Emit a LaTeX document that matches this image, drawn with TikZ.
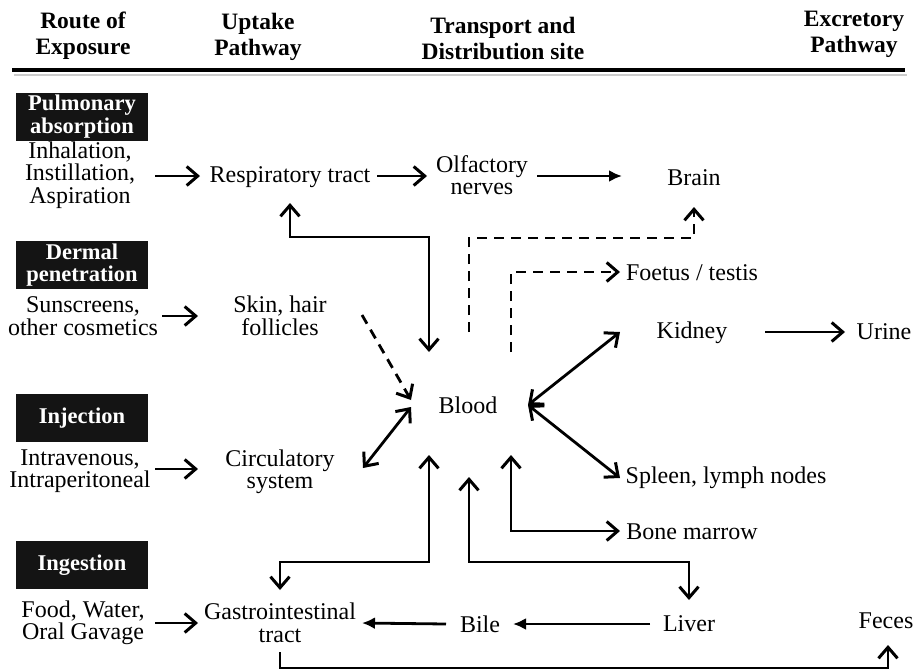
\documentclass[tikz,border=0pt]{standalone}
\usepackage{fontspec}
\setmainfont{Liberation Serif}
\usetikzlibrary{arrows.meta,calc}
\begin{document}
\begin{tikzpicture}[x=1pt,y=-1pt,
  txt/.style={font=\fontsize{24}{22.5}\selectfont, align=center, inner sep=0pt},
  hdr/.style={font=\bfseries\fontsize{23.5}{26}\selectfont, align=center, inner sep=0pt},
  lbl/.style={fill=black!92, text=white, font=\bfseries\fontsize{22.5}{22.5}\selectfont, align=center, minimum width=132pt, minimum height=48pt, inner sep=0pt},
  conn/.style={line width=2.8pt},
  barb/.tip={Straight Barb[length=11pt,width=19pt,line width=3pt]},
  arr/.style={conn, -barb},
  arrb/.style={conn, barb-barb},
  arrf/.style={conn, -{Latex[length=13pt,width=12pt]}},
  dsh/.style={arr, dash pattern=on 10pt off 7pt}
]
\useasboundingbox (0,0) rectangle (913,672);

% header
\node[hdr] (h1) at (83,36) {Route of\\Exposure};
\node[hdr] (h2) at (258,37) {Uptake\\Pathway};
\node[hdr] (h3) at (503,38) {Transport and\\Distribution site};
\node[hdr] (h4) at (854,34) {Excretory\\Pathway};
\coordinate (hl) at (12,70);
\coordinate (hr) at (905,70);
\draw[black!20, line width=2pt] ($(hl)+(2,5)$) -- ($(hr)+(2,5)$);
\draw[line width=4pt] (hl) -- (hr);

% route labels
\node[lbl] (pulm) at (82,116.5) {Pulmonary\\absorption};
\node[lbl] (derm) at (82,265) {Dermal\\penetration};
\node[lbl] (inj) at (82,418) {Injection};
\node[lbl] (ing) at (82,565) {Ingestion};

% text nodes
\node[txt] (inh) at (80,175) {Inhalation,\\Instillation,\\Aspiration};
\node[txt] (resp) at (290,177) {Respiratory tract};
\node[txt] (olf) at (482,175) {Olfactory\\nerves};
\node[txt] (brain) at (694,178) {Brain};
\node[txt] (sun) at (83,316) {Sunscreens,\\other cosmetics};
\node[txt] (skin) at (280,316) {Skin, hair\\follicles};
\node[txt] (foetus) at (692,273) {Foetus / testis};
\node[txt] (kidney) at (692,333) {Kidney};
\node[txt] (urine) at (884,332) {Urine};
\node[txt] (blood) at (468,405) {Blood};
\node[txt] (iv) at (80,471) {Intravenous,\\Intraperitoneal};
\node[txt] (circ) at (280,472) {Circulatory\\system};
\node[txt] (spleen) at (726,478) {Spleen, lymph nodes};
\node[txt] (marrow) at (692,532) {Bone marrow};
\node[txt] (food) at (83,623) {Food, Water,\\Oral Gavage};
\node[txt] (gi) at (280,623) {Gastrointestinal\\tract};
\node[txt] (bile) at (480,624) {Bile};
\node[txt] (liver) at (689,624) {Liver};
\node[txt] (feces) at (886,621) {Feces};

% connectors
\draw[arr] ($(inh)+(75,1)$) -- ($(resp)+(-90,-1)$);
\draw[arr] ($(resp)+(87,-1)$) -- ($(olf)+(-55,1)$);
\draw[arrf] ($(olf)+(55,1)$) -- ($(brain)+(-72,-2)$);
\draw[arr] ($(sun)+(79,0)$) -- ($(skin)+(-82,0)$);
\draw[dsh] ($(skin)+(82,-1)$) -- ($(blood)+(-57,-5)$);
\draw[arr] ($(iv)+(75,-2)$) -- ($(circ)+(-82,-3)$);
\draw[arrb] ($(circ)+(83,-4)$) -- ($(blood)+(-57,2)$);
\draw[arr] ($(food)+(72,0)$) -- ($(gi)+(-82,0)$);

\draw[arrb] ($(resp)+(0,26)$) -- ($(resp)+(0,60)$) -| ($(blood)+(-39,-53)$);
\draw[dsh] ($(blood)+(1,-73)$) -- ($(blood)+(1,-167)$) -| ($(brain)+(0,29)$);
\draw[dsh] ($(blood)+(43,-53)$) |- ($(foetus)+(-72,-1)$);
\draw[arrb] ($(blood)+(60,0)$) -- ($(kidney)+(-72,-1)$);
\draw[arrb] ($(blood)+(60,0)$) -- ($(spleen)+(-106,0)$);
\draw[arr] ($(kidney)+(73,-1)$) -- ($(urine)+(-39,0)$);

\draw[arrb] ($(blood)+(-39,50)$) -- ($(blood)+(-39,157)$) -| ($(gi)+(0,-33)$);
\draw[arrb] ($(blood)+(1,72)$) -- ($(blood)+(1,157)$) -| ($(liver)+(0,-24)$);
\draw[arrb] ($(blood)+(43,50)$) |- ($(marrow)+(-72,-1)$);
\draw[arrf] ($(liver)+(-39,0)$) -- ($(bile)+(33,0)$);
\draw[arrf] ($(bile)+(-34,0)$) -- ($(gi)+(82,0)$);
\draw[arr] ($(gi)+(0,29)$) -- ($(gi)+(0,45)$) -| ($(feces)+(2,24)$);
\end{tikzpicture}
\end{document}
